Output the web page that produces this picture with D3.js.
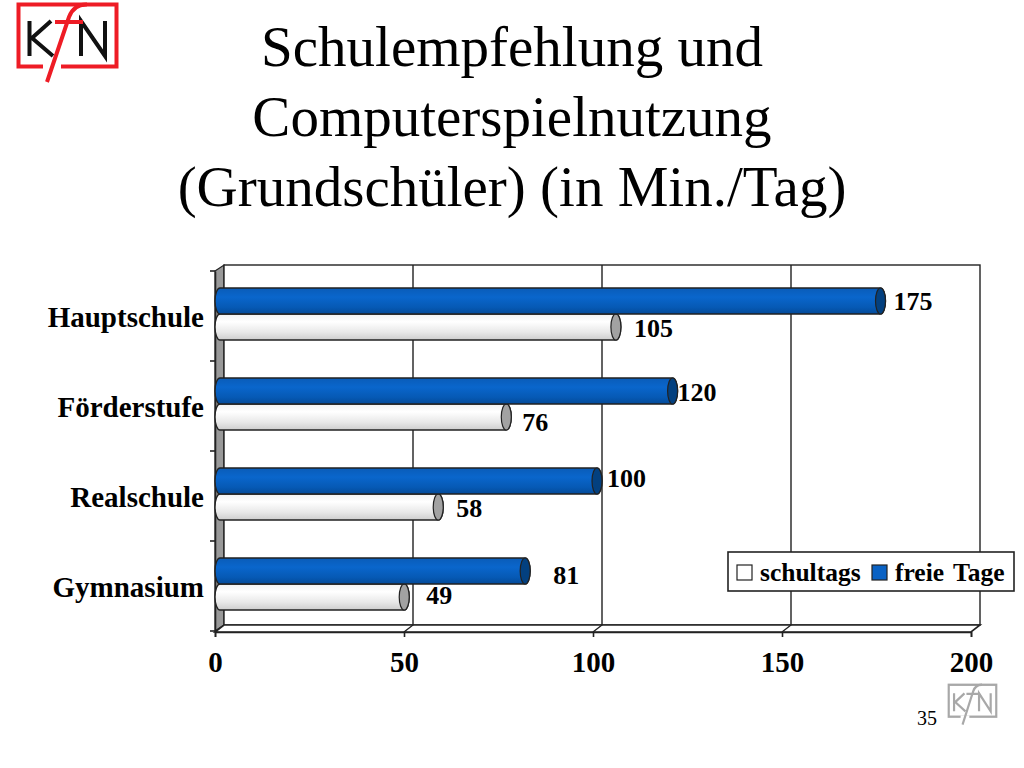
<!DOCTYPE html>
<html>
<head>
<meta charset="utf-8">
<script src="https://cdn.jsdelivr.net/npm/d3@7"></script>
<style>
  html, body { margin: 0; padding: 0; background: #fff; }
  text { font-family: "Liberation Serif", serif; fill: #000; }
</style>
</head>
<body>
<div id="chart"></div>
<script>
const categories = ["Hauptschule", "Förderstufe", "Realschule", "Gymnasium"];
const freieTage = [175, 120, 100, 81];
const schultags = [105, 76, 58, 49];
const xTicks = [0, 50, 100, 150, 200];
const titleLines = ["Schulempfehlung und", "Computerspielnutzung", "(Grundschüler) (in Min./Tag)"];

// the labels sit unevenly in the original, so nudge them by hand
const freieNudge = [[17, 0], [9, 1], [14, -3], [32, 4]];
const schulNudge = [[22, 1], [20, 5], [22, 1], [26, -2]];

const svg = d3.select("#chart").append("svg").attr("width", 1024).attr("height", 768);

const defs = svg.append("defs");
function addGradient(id, stops) {
  const g = defs.append("linearGradient").attr("id", id)
    .attr("x1", 0).attr("x2", 0).attr("y1", 0).attr("y2", 1);
  stops.forEach(([o, c]) => g.append("stop").attr("offset", o).attr("stop-color", c));
}
addGradient("blueBar", [[0, "#0a5cb8"], [0.35, "#0a66cc"], [0.75, "#0659b4"], [1, "#044a98"]]);
addGradient("whiteBar", [[0, "#f2f2f2"], [0.3, "#ffffff"], [0.7, "#e8e8e8"], [1, "#cdcdcd"]]);

titleLines.forEach((line, i) => {
  svg.append("text")
    .attr("x", 512).attr("y", 66 + i * 70)
    .attr("text-anchor", "middle")
    .attr("font-size", 57)
    .text(line);
});

function drawLogo(x, y, sx, sy, frame, letters, width) {
  const g = svg.append("g").attr("transform", `translate(${x},${y}) scale(${sx},${sy})`)
    .attr("fill", "none").attr("stroke-linecap", "butt");
  g.append("rect").attr("x", 1.5).attr("y", 1.5).attr("width", 98).attr("height", 62)
    .attr("stroke", frame).attr("stroke-width", width);
  g.append("line").attr("x1", 26).attr("x2", 44).attr("y1", 64).attr("y2", 64)
    .attr("stroke", "#fff").attr("stroke-width", 6);
  g.append("path").attr("d", "M12.5 18V53M34 18L15 35L36 53M64 53V18L88 53V18")
    .attr("stroke", letters).attr("stroke-width", width);
  g.append("path").attr("d", "M30 79L52 14Q57 1 70 1.5M38 19H66")
    .attr("stroke", frame).attr("stroke-width", width);
}
drawLogo(17, 3, 1, 1, "#ee1c25", "#111", 4);
drawLogo(948, 684, 0.485, 0.515, "#a8a8a8", "#a8a8a8", 4.5);

const depthX = 9;
const depthY = 6;
const x = d3.scaleLinear().domain([0, 200]).range([215, 971]);
const y = d3.scaleBand().domain(categories).range([271, 631]);

// side wall and floor of the 3d box
svg.append("polygon")
  .attr("points", [[x(0), y.range()[0]], [x(0) + depthX, y.range()[0] - depthY],
    [x(0) + depthX, y.range()[1] - depthY], [x(0), y.range()[1]]].join(" "))
  .attr("fill", "#999").attr("stroke", "#222").attr("stroke-width", 1.2);
svg.append("rect")
  .attr("x", x(0) + depthX).attr("y", y.range()[0] - depthY)
  .attr("width", x(200) - x(0)).attr("height", y.range()[1] - y.range()[0])
  .attr("fill", "#fff").attr("stroke", "#222").attr("stroke-width", 1.4);
svg.append("polygon")
  .attr("points", [[x(0), y.range()[1] + 1], [x(0) + depthX, y.range()[1] - depthY],
    [x(200) + depthX, y.range()[1] - depthY], [x(200), y.range()[1] + 1]].join(" "))
  .attr("fill", "#fff").attr("stroke", "#222").attr("stroke-width", 1.6);

xTicks.slice(1, -1).forEach((t) => {
  svg.append("path")
    .attr("d", `M${x(t)} ${y.range()[1] + 1}L${x(t) + depthX} ${y.range()[1] - depthY}V${y.range()[0] - depthY}`)
    .attr("fill", "none").attr("stroke", "#222").attr("stroke-width", 1.4);
});

const xAxis = svg.append("g")
  .attr("transform", `translate(0,${y.range()[1] + 1})`)
  .call(d3.axisBottom(x).tickValues(xTicks).tickSize(5).tickPadding(14));
const yAxis = svg.append("g")
  .attr("transform", `translate(${x(0)},0)`)
  .call(d3.axisLeft(y).tickSize(0).tickPadding(11));
[xAxis, yAxis].forEach((a) => {
  a.selectAll("text").attr("font-size", 29).attr("font-weight", "bold")
    .style("font-family", '"Liberation Serif", serif');
  a.selectAll("path,line").attr("stroke", "#222").attr("stroke-width", 1.6);
});
yAxis.selectAll("text").attr("dy", "0.37em");

// ticks on the band edges, the band axis only gives centres
categories.concat([null]).forEach((c, i) => {
  const ty = y.range()[0] + i * y.step();
  svg.append("line").attr("x1", x(0) - 5).attr("x2", x(0))
    .attr("y1", ty).attr("y2", ty)
    .attr("stroke", "#222").attr("stroke-width", 1.6);
});

const barH = 26;
const capRx = 5;
function cylinder(px, top, h) {
  const r = h / 2;
  return `M${x(0) + capRx} ${top}H${px}A${capRx} ${r} 0 0 1 ${px} ${top + h}` +
    `H${x(0) + capRx}A${capRx} ${r} 0 0 1 ${x(0) + capRx} ${top}Z`;
}
function drawSeries(values, offset, fill, capFill) {
  const g = svg.append("g");
  const bars = g.selectAll("g").data(values).join("g");
  bars.append("path")
    .attr("d", (d, i) => cylinder(x(d) + 4, y(categories[i]) + offset, barH))
    .attr("fill", `url(#${fill})`).attr("stroke", "#222").attr("stroke-width", 1.4);
  bars.append("ellipse")
    .attr("cx", (d) => x(d) + 4)
    .attr("cy", (d, i) => y(categories[i]) + offset + barH / 2)
    .attr("rx", capRx).attr("ry", barH / 2)
    .attr("fill", capFill).attr("stroke", "#222").attr("stroke-width", 1.2);
}
// white row first, the blue bar lies over its top edge
drawSeries(schultags, 43, "whiteBar", "#a2a2a2");
drawSeries(freieTage, 17, "blueBar", "#03407f");

function drawLabels(values, nudge, offset) {
  svg.append("g").selectAll("text").data(values).join("text")
    .attr("x", (d, i) => x(d) + nudge[i][0])
    .attr("y", (d, i) => y(categories[i]) + offset + nudge[i][1])
    .attr("font-size", 26).attr("font-weight", "bold")
    .attr("dy", "0.33em")
    .text((d) => d);
}
drawLabels(freieTage, freieNudge, 30);
drawLabels(schultags, schulNudge, 56);

const legend = svg.append("g");
legend.append("rect").attr("x", 728).attr("y", 552).attr("width", 286).attr("height", 39)
  .attr("fill", "#fff").attr("stroke", "#222").attr("stroke-width", 1.6);
[["schultags", "#fff", 737, 760], ["freie Tage", "#0a62c4", 872, 895]].forEach(([label, fill, sx, tx]) => {
  legend.append("rect").attr("x", sx).attr("y", 565).attr("width", 15).attr("height", 15)
    .attr("fill", fill).attr("stroke", "#222").attr("stroke-width", 1.2);
  legend.append("text").attr("x", tx).attr("y", 581)
    .attr("font-size", 25.5).attr("font-weight", "bold")
    .attr("word-spacing", 3).text(label);
});

svg.append("text").attr("x", 917).attr("y", 725).attr("font-size", 20).attr("fill", "#222").text("35");
</script>
</body>
</html>
